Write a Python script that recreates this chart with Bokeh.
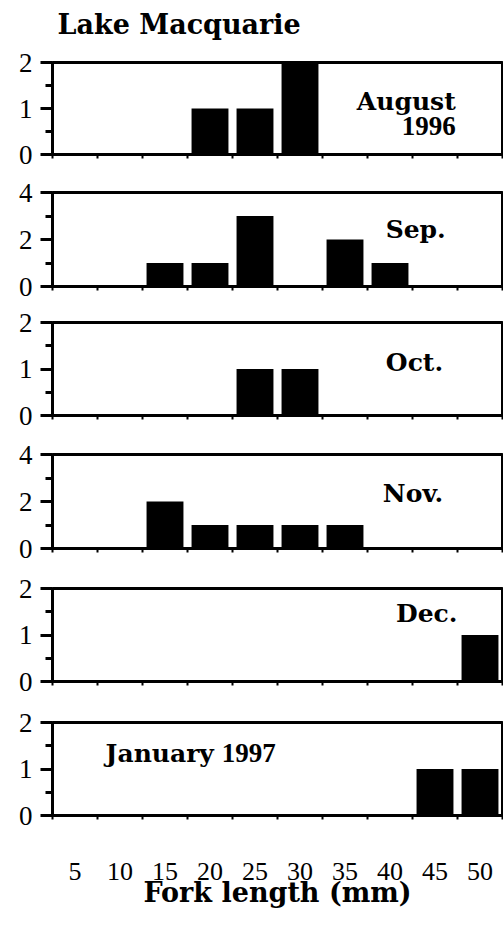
from bokeh.plotting import figure
from bokeh.layouts import column
from bokeh.models import FixedTicker, Range1d
from bokeh.core.properties import value
from bokeh.embed import file_html
from bokeh.resources import INLINE

# ---------------- data ----------------
title = "Lake Macquarie"
x_title = "Fork length (mm)"
bins = [5, 10, 15, 20, 25, 30, 35, 40, 45, 50]          # fork-length class (mm)
aug = [0, 0, 0, 1, 1, 2, 0, 0, 0, 0]
sep = [0, 0, 1, 1, 3, 0, 2, 1, 0, 0]
oct_ = [0, 0, 0, 0, 1, 1, 0, 0, 0, 0]
nov = [0, 0, 2, 1, 1, 1, 1, 0, 0, 0]
dec = [0, 0, 0, 0, 0, 0, 0, 0, 0, 1]
jan = [0, 0, 0, 0, 0, 0, 0, 0, 1, 1]
y_max = [2, 4, 2, 4, 2, 2]
y_major = [[0, 1, 2], [0, 2, 4], [0, 1, 2], [0, 2, 4], [0, 1, 2], [0, 1, 2]]
month_words = ["August", "Sep.", "Oct.", "Nov.", "Dec.", "January"]
year_words = ["1996", None, None, None, None, "1997"]
series = [aug, sep, oct_, nov, dec, jan]

# ---------------- layout / style ----------------
W = 503
SERIF_WORD = "DejaVu Serif"
SERIF_NUM = "Liberation Serif"
half = (bins[1] - bins[0]) / 2
edges = [b - half for b in bins] + [bins[-1] + half]
x_lo, x_hi = edges[0], edges[-1]

# (border_top, frame_height, border_bottom) per panel
geom = [(21, 92, 19), (19, 94, 18), (18, 93, 19), (20, 94, 20), (20, 93, 20), (21, 93, 105)]
# label anchors per panel: (x, y, align) for the word, (x, y, align) for the year
lab_pos = [(47.3, 1.16, "right"), (46.2, 2.42, "right"), (45.9, 1.13, "right"),
           (45.9, 2.34, "right"), (47.5, 1.47, "right"), (8.4, 1.34, "left")]
year_pos = [(47.3, 0.61, "right"), None, None, None, None, (21.3, 1.34, "left")]

# title strip (a figure holding only the overall title)
pt = figure(width=W, height=41, output_backend="svg", toolbar_location=None,
            x_axis_location=None, y_axis_location=None,
            x_range=Range1d(x_lo, x_hi), y_range=Range1d(0, 1),
            min_border_left=52, min_border_right=1, min_border_top=40, min_border_bottom=0)
pt.xgrid.visible = False
pt.ygrid.visible = False
pt.outline_line_color = None
pt.title.text = title
pt.title.text_font = SERIF_WORD
pt.title.text_font_style = "bold"
pt.title.text_font_size = "27px"
pt.title.text_color = "black"
pt.title.align = "left"
pt.title.offset = 5
pt.title.vertical_align = "bottom"
pt.title.standoff = 2

figs = [pt]
n = len(series)
for i in range(n):
    bt, fh, bb = geom[i]
    last = (i == n - 1)
    p = figure(width=W, height=bt + fh + bb, output_backend="svg", toolbar_location=None,
               x_range=Range1d(x_lo, x_hi), y_range=Range1d(0, y_max[i]),
               min_border_left=52, min_border_right=1, min_border_top=bt, min_border_bottom=bb)
    p.xgrid.visible = False
    p.ygrid.visible = False
    p.outline_line_color = "black"
    p.outline_line_width = 3
    p.background_fill_color = "white"
    p.border_fill_color = "white"

    p.vbar(x=bins, top=series[i], width=4.1, bottom=0, fill_color="black", line_color=None)

    # y axis
    ya = p.yaxis[0]
    majors = y_major[i]
    minors = [(a + b) / 2 for a, b in zip(majors[:-1], majors[1:])]
    ya.ticker = FixedTicker(ticks=majors, minor_ticks=minors)
    ya.axis_line_width = 3
    ya.major_tick_line_width = 3
    ya.minor_tick_line_width = 3
    ya.major_tick_out = 12
    ya.major_tick_in = 0
    ya.minor_tick_out = 7
    ya.minor_tick_in = 0
    ya.major_label_standoff = 8
    ya.major_label_text_font = SERIF_NUM
    ya.major_label_text_font_size = "27px"
    ya.major_label_text_color = "black"

    # x axis
    xa = p.xaxis[0]
    xa.ticker = FixedTicker(ticks=bins if last else [], minor_ticks=edges)
    xa.axis_line_width = 3
    xa.major_tick_line_color = None
    xa.major_tick_out = 0
    xa.major_tick_in = 0
    xa.minor_tick_out = 4
    xa.minor_tick_in = 0
    xa.minor_tick_line_width = 2
    if last:
        xa.major_label_standoff = 43
        xa.major_label_text_font = SERIF_NUM
        xa.major_label_text_font_size = "26px"
        xa.major_label_text_color = "black"
        xa.axis_label = x_title
        xa.axis_label_text_font = SERIF_WORD
        xa.axis_label_text_font_style = "bold"
        xa.axis_label_text_font_size = "27px"
        xa.axis_label_text_color = "black"
        xa.axis_label_standoff = -6
    else:
        xa.major_label_standoff = 0

    lx, ly, al = lab_pos[i]
    p.text(x=[lx], y=[ly], text=[month_words[i]], text_font=value(SERIF_WORD),
           text_font_style="bold", text_font_size="25px", text_align=al,
           text_baseline="alphabetic", text_color="black")
    if year_words[i] is not None:
        yx, yy, ya_al = year_pos[i]
        p.text(x=[yx], y=[yy], text=[year_words[i]], text_font=value(SERIF_NUM),
               text_font_style="bold", text_font_size="27px", text_align=ya_al,
               text_baseline="alphabetic", text_color="black")
    figs.append(p)

layout = column(*figs, spacing=0)
open("out.html", "w").write(file_html(layout, INLINE))
